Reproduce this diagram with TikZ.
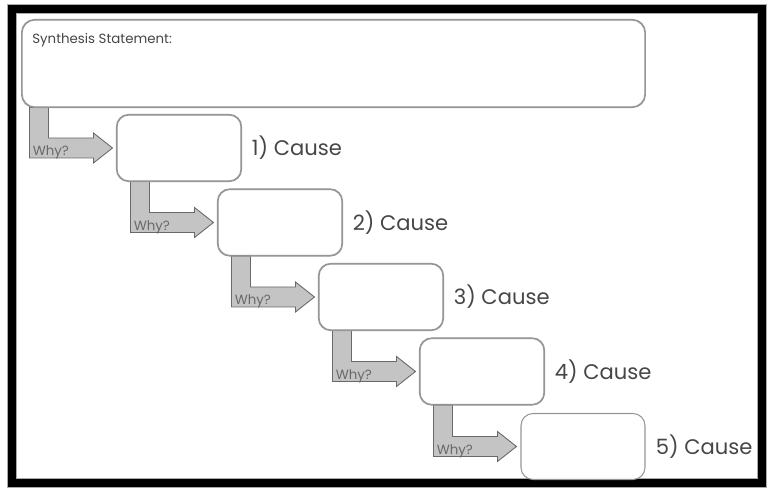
\documentclass[tikz,border=0pt]{standalone}
\usepackage{fontspec}
\setmainfont{Poppins}
\usepackage{xcolor}
\usepackage{tikz}
\usetikzlibrary{calc,positioning}
\definecolor{boxgray}{RGB}{150, 150, 150}
\definecolor{arrowfill}{RGB}{196, 196, 196}
\definecolor{arrowline}{RGB}{105, 105, 105}
\definecolor{labelgray}{RGB}{70, 70, 70}
\definecolor{shadowgray}{RGB}{170, 170, 170}

\begin{document}
\begin{tikzpicture}[
  x=0.02cm, y=-0.02cm,
  causebox/.style={rectangle, draw=boxgray, fill=white, rounded corners=2.4mm, line width=0.6pt, minimum width=2.48cm, minimum height=1.32cm},
  synthbox/.style={rectangle, draw=boxgray, fill=white, rounded corners=2.6mm, line width=0.6pt, minimum width=12.46cm, minimum height=1.74cm},
  whyarrow/.style={fill=arrowfill, draw=arrowline, line width=0.5pt, line join=miter},
  whylbl/.style={font=\fontsize{7.6}{8}\selectfont, text=arrowline, inner sep=0pt, anchor=base west},
  causelbl/.style={font=\fontsize{12}{14}\selectfont, text=labelgray, inner sep=0pt}
]
\useasboundingbox (0,0) rectangle (769,489);

% Outer Frame
\draw[shadowgray, line width=0.2cm] (12,9) rectangle (762,483);
\draw[black, line width=0.16cm] (12,9) rectangle (762,483);

% Statement and Cause Boxes
\node[synthbox] (synth) at (333.5, 63.5) {};
\node[font=\fontsize{7.6}{9}\selectfont, text=labelgray, inner sep=0pt, anchor=north west] (stmt) at (32, 33) {Synthesis Statement:};

\node[causebox] (c1) at (179, 148) {};
\node[causebox] (c2) at (280, 222.5) {};
\node[causebox] (c3) at (381, 297) {};
\node[causebox] (c4) at (482, 371.5) {};
\node[causebox] (c5) at (583, 446.5) {};

% Why? Arrows
\filldraw[whyarrow] ($(c1.west)+(-4,0)$) -- ++(-19,-15) -- ++(0,5) -- ++(-45,0) coordinate (r1)
  -- (r1 |- synth.south) -- ++(-19,0) -- ($(c1.west)+(-87,10)$) -- ++(64,0) -- ++(0,5) -- cycle;
\node[whylbl] (w1) at ($(c1.west)+(-84,8)$) {Why?};

\filldraw[whyarrow] ($(c2.west)+(-4,0)$) -- ++(-19,-15) -- ++(0,5) -- ++(-45,0) coordinate (r2)
  -- (r2 |- c1.south) -- ++(-19,0) -- ($(c2.west)+(-87,10)$) -- ++(64,0) -- ++(0,5) -- cycle;
\node[whylbl] (w2) at ($(c2.west)+(-84,8)$) {Why?};

\filldraw[whyarrow] ($(c3.west)+(-4,0)$) -- ++(-19,-15) -- ++(0,5) -- ++(-45,0) coordinate (r3)
  -- (r3 |- c2.south) -- ++(-19,0) -- ($(c3.west)+(-87,10)$) -- ++(64,0) -- ++(0,5) -- cycle;
\node[whylbl] (w3) at ($(c3.west)+(-84,8)$) {Why?};

\filldraw[whyarrow] ($(c4.west)+(-4,0)$) -- ++(-19,-15) -- ++(0,5) -- ++(-45,0) coordinate (r4)
  -- (r4 |- c3.south) -- ++(-19,0) -- ($(c4.west)+(-87,10)$) -- ++(64,0) -- ++(0,5) -- cycle;
\node[whylbl] (w4) at ($(c4.west)+(-84,8)$) {Why?};

\filldraw[whyarrow] ($(c5.west)+(-4,0)$) -- ++(-19,-15) -- ++(0,5) -- ++(-45,0) coordinate (r5)
  -- (r5 |- c4.south) -- ++(-19,0) -- ($(c5.west)+(-87,10)$) -- ++(64,0) -- ++(0,5) -- cycle;
\node[whylbl] (w5) at ($(c5.west)+(-84,8)$) {Why?};

% Redraw box borders over the arrow tops
\draw[boxgray, line width=0.6pt, rounded corners=2.6mm] (synth.south west) rectangle (synth.north east);
\draw[boxgray, line width=0.6pt, rounded corners=2.4mm] (c1.south west) rectangle (c1.north east);
\draw[boxgray, line width=0.6pt, rounded corners=2.4mm] (c2.south west) rectangle (c2.north east);
\draw[boxgray, line width=0.6pt, rounded corners=2.4mm] (c3.south west) rectangle (c3.north east);
\draw[boxgray, line width=0.6pt, rounded corners=2.4mm] (c4.south west) rectangle (c4.north east);

% Cause Labels
\node[causelbl, right=0.2cm of c1] (l1) {1) Cause};
\node[causelbl, right=0.2cm of c2] (l2) {2) Cause};
\node[causelbl, right=0.2cm of c3] (l3) {3) Cause};
\node[causelbl, right=0.2cm of c4] (l4) {4) Cause};
\node[causelbl, right=0.2cm of c5] (l5) {5) Cause};

\end{tikzpicture}
\end{document}
